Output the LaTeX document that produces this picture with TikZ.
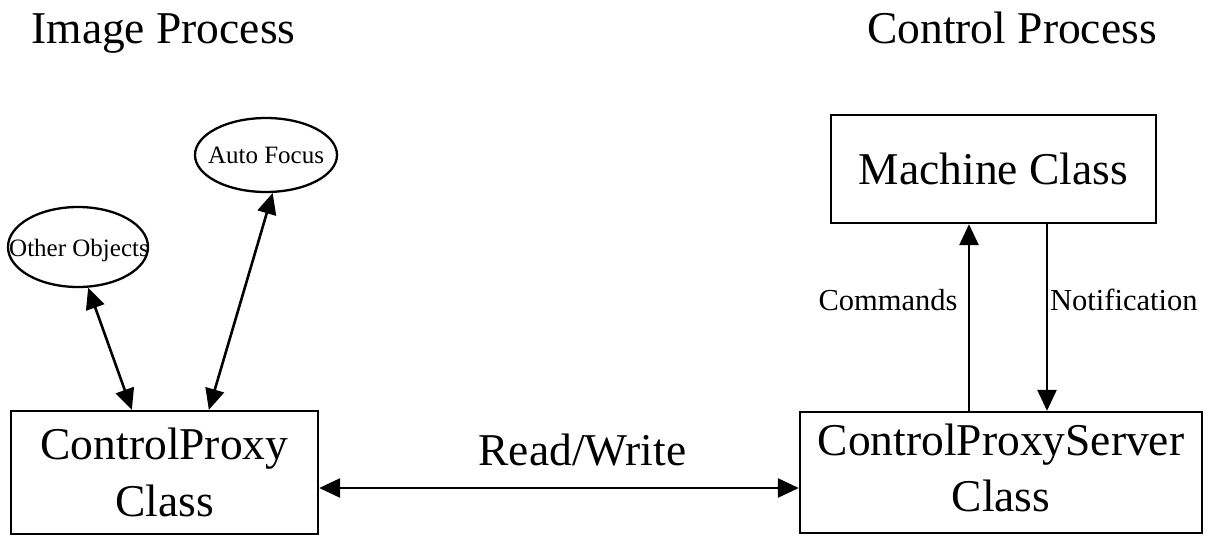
\documentclass[tikz,border=0pt]{standalone}
\usepackage{fontspec}
\setmainfont{Liberation Serif}
\usetikzlibrary{arrows.meta,shapes.geometric}

\tikzset{
  classbox/.style={draw, line width=2.3pt, inner sep=0pt, align=center,
    font=\fontsize{45.5}{57}\selectfont},
  objoval/.style={draw, ellipse, line width=2.3pt, inner sep=0pt,
    font=\fontsize{25}{30}\selectfont},
  title/.style={anchor=base, inner sep=0pt, font=\fontsize{45.5}{55}\selectfont},
  edgelabel/.style={anchor=base, inner sep=0pt, font=\fontsize{30.5}{36}\selectfont},
  link/.style={line width=2.6pt, -{Triangle[length=21pt,width=19pt]}},
  duplex/.style={line width=2.6pt, {Triangle[length=21pt,width=19pt]}-{Triangle[length=21pt,width=19pt]}},
}

\begin{document}
\begin{tikzpicture}[x=1pt, y=-1pt]
  \useasboundingbox (0,0) rectangle (1211,536);

  % process headings
  \node[title] (imgtitle) at (163.5,43) {Image Process};
  \node[title] (ctltitle) at (1012,43) {Control Process};

  % image process side
  \node[classbox, minimum width=307pt, minimum height=123pt] (proxy) at (164.5,472.5)
    {ControlProxy\\Class};
  \node[objoval, minimum width=142pt, minimum height=74pt] (focus) at (266,155) {};
  \node[anchor=base, inner sep=0pt, font=\fontsize{25}{30}\selectfont] (focustext) at (266,163) {Auto Focus};
  \node[objoval, minimum width=140pt, minimum height=80pt] (others) at (78,247) {};
  \node[anchor=base, inner sep=0pt, font=\fontsize{25}{30}\selectfont] (otherstext) at (79,256) {Other Objects};

  % control process side
  \node[classbox, minimum width=402pt, minimum height=121pt] (server) at (1001,472.5) {};
  \node[inner sep=0pt, align=center, font=\fontsize{45.5}{56}\selectfont]
    (servertext) at (1001,468) {ControlProxyServer\\Class};
  \node[classbox, minimum width=325pt, minimum height=108pt] (machine) at (993.5,169)
    {Machine Class};

  % links between objects
  \draw[duplex] (others.-76) -- ([xshift=122pt]proxy.north west);
  \draw[duplex] (focus.-80) -- ([xshift=199pt]proxy.north west);
  \draw[duplex] ([yshift=-15.5pt]proxy.east) -- ([yshift=-15.5pt]server.west);
  \node[edgelabel, font=\fontsize{45.5}{55}\selectfont] (rwlabel) at (582.5,465) {Read/Write};

  \draw[link] ([xshift=-32pt]server.north) -- ([xshift=-24.5pt]machine.south);
  \draw[link] ([xshift=53.5pt]machine.south) -- ([xshift=46pt]server.north);
  \node[edgelabel] (cmdlabel) at (888,310) {Commands};
  \node[edgelabel, anchor=base west] (notelabel) at (1050,310) {Notification};
\end{tikzpicture}
\end{document}
